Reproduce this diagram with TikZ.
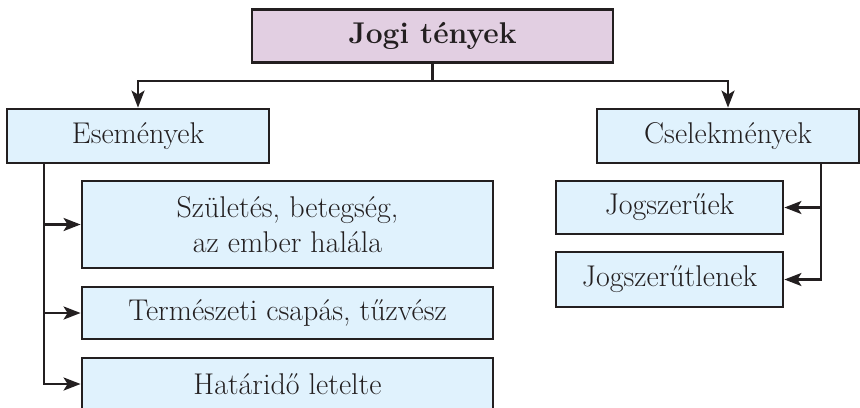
\documentclass[tikz,border=0pt]{standalone}
\usepackage{fontspec}
\usepackage{tikz}
\usetikzlibrary{arrows.meta}

\definecolor{lineclr}{HTML}{231F20}
\definecolor{pinkfill}{HTML}{E2CFE2}
\definecolor{bluefill}{HTML}{E0F2FD}

\begin{document}
\begin{tikzpicture}[x=0.5pt, y=-0.5pt,
    every node/.style={font=\fontsize{15}{17.5}\selectfont, text=lineclr},
    box/.style={draw=lineclr, line width=1.4pt, fill=bluefill, align=center, inner sep=0pt},
    conn/.style={draw=lineclr, line width=1.3pt},
    arr/.style={conn, -{Stealth[length=8.5pt, width=6.5pt, inset=2pt]}}]

    % Frame
    \clip (0,0) rectangle (860,407);

    % Boxes
    \node[box, fill=pinkfill, minimum width=180.5pt, minimum height=26.75pt, font=\fontsize{15}{17.5}\selectfont\bfseries] (jogi) at (432.5,36) {Jogi tények};
    \node[box, minimum width=131pt, minimum height=27pt] (esem) at (138,136) {Események};
    \node[box, minimum width=131pt, minimum height=27pt] (csel) at (728,136) {Cselekmények};

    \node[box, minimum width=205.5pt, minimum height=43.5pt] (szul) at (287.5,224.5) {Születés, betegség,\\az ember halála};
    \node[box, minimum width=205.5pt, minimum height=26pt] (term) at (287.5,313) {Természeti csapás, tűzvész};
    \node[box, minimum width=205.5pt, minimum height=26pt] (hat) at (287.5,384) {Határidő letelte};

    \node[box, minimum width=113.5pt, minimum height=26.5pt] (jsz) at (669.5,207.5) {Jogszerűek};
    \node[box, minimum width=113.5pt, minimum height=27.5pt] (jszt) at (669.5,279.5) {Jogszerűtlenek};

    % Connectors
    \draw[conn] (jogi.south) -- ++(0,17) coordinate (fork);
    \draw[arr] (fork) -| (esem.north);
    \draw[arr] (fork) -| (csel.north);

    \coordinate (lbus) at ([xshift=-47pt]esem.south);
    \foreach \t in {szul, term, hat}
      \draw[arr] (lbus) |- (\t.west);

    \coordinate (rbus) at ([xshift=46.5pt]csel.south);
    \foreach \t in {jsz, jszt}
      \draw[arr] (rbus) |- (\t.east);

\end{tikzpicture}
\end{document}
